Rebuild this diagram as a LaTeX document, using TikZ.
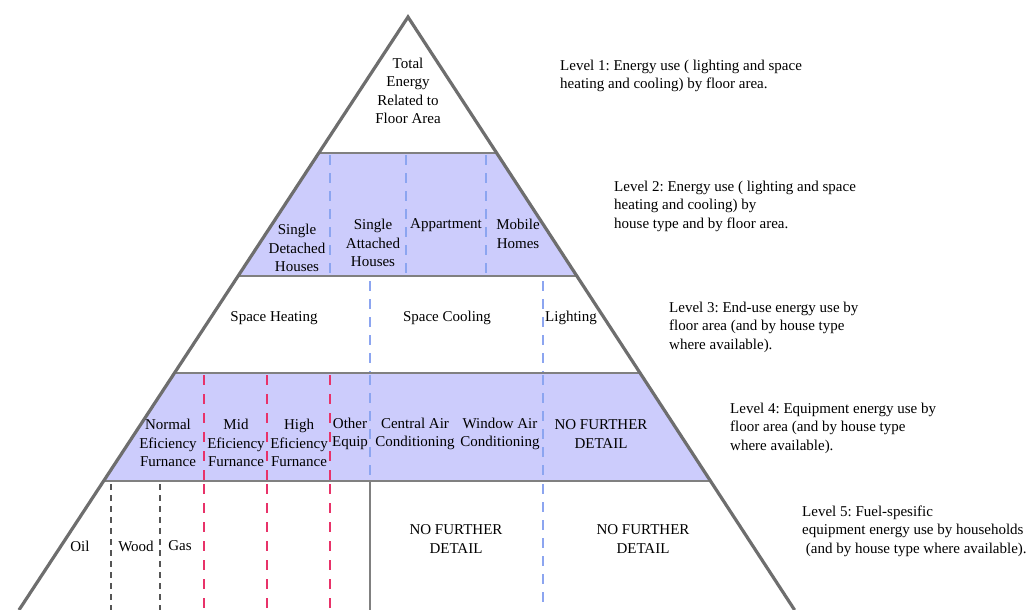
\documentclass[tikz,border=0pt]{standalone}
\usepackage{fontspec}
\setmainfont{Liberation Serif}
\frenchspacing
\definecolor{bandfill}{RGB}{204,204,252}
\definecolor{edgegray}{RGB}{110,110,110}
\definecolor{linegray}{RGB}{128,128,128}
\definecolor{dashblue}{RGB}{140,165,240}
\definecolor{dashred}{RGB}{232,50,105}
\definecolor{dashgray}{RGB}{85,85,85}
\tikzset{
    band/.style={fill=bandfill, draw=none},
    rule/.style={draw=linegray, line width=1.8pt},
    bluedash/.style={draw=dashblue, line width=1.3pt, dash pattern=on 10pt off 8pt},
    reddash/.style={draw=dashred, line width=1.5pt, dash pattern=on 10pt off 9pt},
    graydash/.style={draw=dashgray, line width=1.1pt, dash pattern=on 6pt off 5pt},
    lbl/.style={align=center, inner sep=0pt, font=\fontsize{15}{18.5}\selectfont},
    note/.style={align=left, anchor=west, inner sep=0pt, font=\fontsize{15}{18.5}\selectfont}
}
\begin{document}
\begin{tikzpicture}[x=1pt, y=-1pt]
    \useasboundingbox (0,0) rectangle (1031,610);
    \clip (0,0) rectangle (1031,610);

    % Shaded bands (level 2 and level 4)
    \fill[band] (318.8,153) -- (496.7,153) -- (576.9,276) -- (238.1,276) -- cycle;
    \fill[band] (174.5,373) -- (640.1,373) -- (710.5,481) -- (103.6,481) -- cycle;

    % Level borders
    \draw[rule] (318.8,153) -- (496.7,153);
    \draw[rule] (238.1,276) -- (576.9,276);
    \draw[rule] (174.5,373) -- (640.1,373);
    \draw[rule] (103.6,481) -- (710.5,481);

    % Level 2 dividers
    \foreach \x in {330,406,486}
        \draw[bluedash] (\x,155) -- (\x,275);

    % Level 3 dividers
    \foreach \x in {370,543}
        \draw[bluedash] (\x,281) -- (\x,372);

    % Level 4 dividers
    \foreach \x in {204,267,330}
        \draw[reddash] (\x,375) -- (\x,480);
    \foreach \x in {370,543}
        \draw[bluedash] (\x,375) -- (\x,480);

    % Level 5 dividers
    \foreach \x in {111,160}
        \draw[graydash] (\x,484) -- (\x,610);
    \foreach \x in {204,267,330}
        \draw[reddash] (\x,484) -- (\x,610);
    \draw[draw=linegray, line width=2.2pt] (370,482) -- (370,610);
    \draw[bluedash] (543,484) -- (543,610);

    % Pyramid sides
    \draw[edgegray, line width=3.2pt, line join=miter] (19,610) -- (408,17) -- (794.6,610);

    % Level 1
    \node[lbl] (total) at (408,91) {Total\\Energy\\Related to\\Floor Area};

    % Level 2
    \node[lbl] (detached) at (297,248) {Single\\Detached\\Houses};
    \node[lbl] (attached) at (373,243) {Single\\Attached\\Houses};
    \node[lbl] (appart) at (446,225) {Appartment};
    \node[lbl] (mobile) at (518,234) {Mobile\\Homes};

    % Level 3
    \node[lbl] (heating) at (274,318) {Space Heating};
    \node[lbl] (cooling) at (447,318) {Space Cooling};
    \node[lbl] (lighting) at (571,318) {Lighting};

    % Level 4
    \node[lbl] (normal) at (168,443) {Normal\\Eficiency\\Furnance};
    \node[lbl] (mid) at (236,443) {Mid\\Eficiency\\Furnance};
    \node[lbl] (high) at (299,443) {High\\Eficiency\\Furnance};
    \node[lbl] (other) at (350,434) {Other\\Equip};
    \node[lbl] (central) at (415,434) {Central Air\\Conditioning};
    \node[lbl] (window) at (500,434) {Window Air\\Conditioning};
    \node[lbl] (nofour) at (601,434) {NO FURTHER\\DETAIL};

    % Level 5
    \node[lbl] (oil) at (80,546) {Oil};
    \node[lbl] (wood) at (136,546) {Wood};
    \node[lbl] (gas) at (180,546) {Gas};
    \node[lbl] (nofivea) at (456,539) {NO FURTHER\\DETAIL};
    \node[lbl] (nofiveb) at (643,539) {NO FURTHER\\DETAIL};

    % Level notes
    \node[note] (noteone) at (560,76) {Level 1: Energy use ( lighting and space\\heating and cooling) by floor area.};
    \node[note] (notetwo) at (614,206) {Level 2: Energy use ( lighting and space\\heating and cooling) by\\house type and by floor area.};
    \node[note] (notethree) at (669,327) {Level 3: End-use energy use by\\floor area (and by house type\\where available).};
    \node[note] (notefour) at (730,428) {Level 4: Equipment energy use by\\floor area (and by house type\\where available).};
    \node[note] (notefive) at (802,531) {Level 5: Fuel-spesific\\equipment energy use by households\\\ (and by house type where available).};
\end{tikzpicture}
\end{document}
